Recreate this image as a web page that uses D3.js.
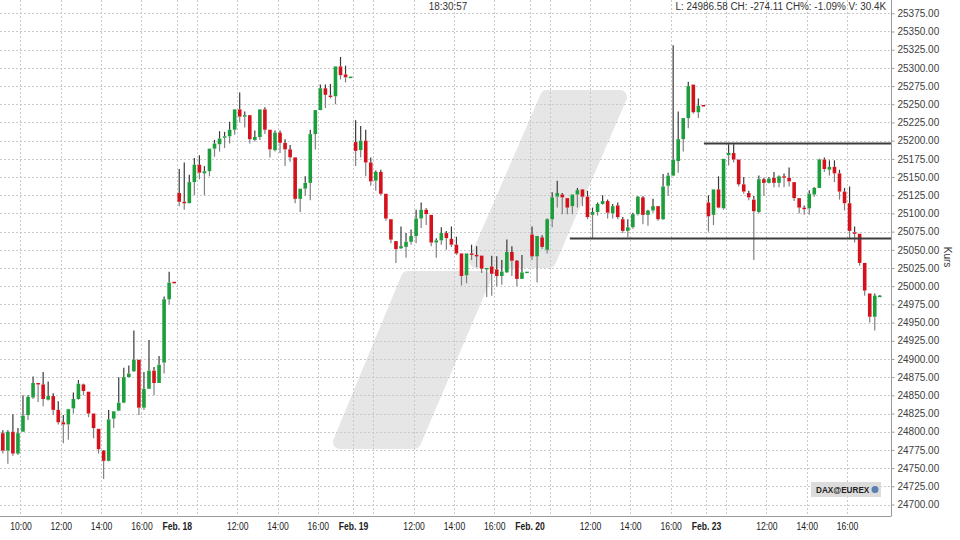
<!DOCTYPE html>
<html><head><meta charset="utf-8">
<script src="https://cdn.jsdelivr.net/npm/d3@7"></script>
<style>
body{margin:0;background:#fff;}
svg{display:block;font-family:"Liberation Sans",Arial,sans-serif;}
</style></head><body>
<svg id="c" width="960" height="540"></svg>
<script>
// ---------- DATA ----------
const dayLabels = ["Feb. 17", "Feb. 18", "Feb. 19", "Feb. 20", "Feb. 23"];
const timeLabels = ["10:00", "12:00", "14:00", "16:00"];
const timeHours = [1, 3, 5, 7];            // hours after session start (09:00)
const yTicks = d3.range(24700, 25375.01, 25);
// candles [open, high, low, close], 15-minute bars 09:00 .. 17:30
const feb17 = [
 [24798,24802,24770,24774],[24774,24802,24756,24800],[24800,24824,24767,24770],[24770,24805,24768,24798],
 [24800,24850,24800,24822],[24823,24850,24816,24848],[24847,24876,24845,24867],[24867,24867,24841,24865],
 [24865,24882,24835,24845],[24844,24869,24843,24849],[24849,24853,24823,24830],[24830,24842,24810,24813],
 [24813,24823,24784,24810],[24810,24831,24789,24831],[24832,24854,24825,24845],[24845,24871,24844,24866],
 [24865,24866,24850,24856],[24855,24855,24820,24825],[24825,24825,24791,24805],[24804,24804,24770,24776],
 [24774,24775,24735,24760],[24760,24830,24759,24817],[24818,24828,24805,24828],[24829,24875,24828,24840],
 [24840,24888,24839,24875],[24875,24891,24875,24880],[24883,24939,24882,24899],[24899,24899,24823,24833],
 [24833,24882,24830,24859],[24859,24926,24859,24884],[24884,24889,24850,24867],[24867,24904,24867,24892],
 [24895,24986,24880,24982],[24982,25020,24975,25005],[25006,25006,25005,25005]
];
const feb18 = [
 [25128,25161,25110,25116],[25116,25170,25105,25114],[25114,25153,25114,25143],[25143,25176,25125,25167],
 [25167,25180,25147,25156],[25155,25165,25125,25158],[25158,25189,25151,25189],[25189,25201,25178,25196],
 [25195,25213,25185,25203],[25204,25212,25190,25206],[25206,25226,25196,25215],[25215,25243,25208,25243],
 [25243,25266,25225,25233],[25233,25240,25218,25235],[25235,25235,25196,25202],[25201,25214,25199,25205],
 [25205,25243,25201,25243],[25243,25246,25209,25215],[25215,25215,25177,25188],[25187,25214,25185,25211],
 [25211,25214,25183,25197],[25197,25202,25165,25188],[25188,25194,25171,25177],[25177,25177,25114,25120],
 [25120,25134,25102,25134],[25134,25151,25124,25142],[25142,25215,25118,25209],[25209,25242,25188,25242],
 [25242,25277,25242,25272],[25272,25277,25245,25263],[25262,25278,25258,25260],[25261,25302,25250,25302],
 [25302,25315,25284,25290],[25291,25303,25280,25287],[25287,25288,25287,25288]
];
const feb19 = [
 [25198,25228,25165,25186],[25187,25220,25177,25200],[25200,25215,25151,25170],[25170,25177,25138,25144],
 [25145,25159,25131,25157],[25157,25160,25125,25127],[25127,25127,25090,25093],[25092,25092,25059,25064],
 [25062,25062,25032,25051],[25052,25082,25051,25055],[25054,25073,25039,25061],[25061,25078,25057,25069],
 [25069,25105,25059,25093],[25093,25115,25080,25105],[25105,25107,25084,25099],[25098,25098,25055,25060],
 [25060,25066,25039,25063],[25063,25081,25057,25073],[25073,25076,25050,25066],[25065,25082,25054,25057],
 [25057,25068,25043,25045],[25045,25045,25001,25014],[25015,25045,25004,25045],[25045,25057,25036,25043],
 [25043,25055,25026,25042],[25042,25042,25018,25024],[25023,25025,24985,25025],[25027,25042,24987,25017],
 [25023,25041,25000,25014],[25014,25036,25002,25020],[25019,25064,25018,25047],[25047,25055,25014,25035],
 [25035,25036,25000,25010],[25010,25043,25010,25019],[25019,25020,25019,25020]
];
const feb20 = [
 [25071,25082,25036,25041],[25041,25069,25005,25069],[25067,25070,25051,25054],[25050,25093,25045,25092],
 [25092,25129,25081,25122],[25123,25145,25108,25128],[25126,25128,25099,25122],[25121,25121,25099,25108],
 [25110,25126,25099,25126],[25126,25135,25108,25132],[25133,25133,25110,25123],[25123,25131,25092,25095],
 [25098,25108,25066,25102],[25102,25115,25097,25113],[25113,25125,25112,25117],[25117,25119,25093,25101],
 [25100,25113,25093,25110],[25111,25115,25092,25095],[25092,25095,25073,25076],[25076,25092,25067,25081],
 [25081,25101,25079,25099],[25099,25124,25097,25123],[25122,25124,25085,25098],[25098,25105,25083,25104],
 [25104,25120,25101,25110],[25110,25110,25090,25092],[25092,25154,25091,25137],[25138,25156,25124,25152],
 [25152,25331,25151,25174],[25172,25240,25156,25202],[25202,25231,25185,25231],[25231,25281,25217,25275],
 [25277,25277,25237,25239],[25239,25258,25231,25248],[25249,25249,25248,25248]
];
const feb23 = [
 [25115,25125,25075,25096],[25098,25133,25084,25133],[25133,25151,25107,25108],[25107,25175,25105,25175],
 [25180,25195,25166,25183],[25183,25195,25170,25174],[25174,25174,25137,25140],[25140,25150,25127,25130],
 [25128,25131,25118,25122],[25119,25124,25036,25103],[25102,25152,25100,25147],[25147,25149,25124,25142],
 [25142,25150,25141,25148],[25149,25157,25136,25142],[25142,25152,25136,25151],[25151,25155,25136,25149],
 [25149,25163,25137,25144],[25143,25143,25117,25121],[25121,25121,25100,25108],[25108,25111,25098,25106],
 [25107,25132,25098,25127],[25126,25136,25123,25135],[25135,25175,25135,25174],[25174,25177,25157,25161],
 [25160,25173,25152,25164],[25164,25173,25143,25155],[25155,25160,25119,25130],[25130,25135,25104,25114],
 [25114,25137,25066,25076],[25074,25082,25060,25072],[25072,25072,25028,25032],[25032,25032,24987,24994],
 [24990,24990,24950,24958],[24958,24990,24939,24987],[24987,24988,24986,24987]
];
const sessions = [feb17, feb18, feb19, feb20, feb23];
// horizontal support / resistance lines: level and start (session hours)
const levelValues = [25196, 25065.5];
const levelStarts = [34.9, 28.25];
const headerTime = "18:30:57";
const headerStats = "L: 24986.58 CH: -274.11 CH%: -1.09% V: 30.4K";

// ---------- LAYOUT ----------
const svg = d3.select("#c");
const plotRight = 891, plotBottom = 516;
const sessionLen = 8.75, barH = 0.25;
const x = d3.scaleLinear().domain([0, 44.18]).range([0.3, plotRight]);
const y = d3.scaleLinear().domain([24700, 25375]).range([504.5, 13.3]);
const green = "#1c9e3d", red = "#d3121b";
const condense = (sel, k) => sel.each(function () {
  const w = this.getComputedTextLength();
  d3.select(this).attr("textLength", w * k).attr("lengthAdjust", "spacingAndGlyphs");
});

// watermark (two slanted rounded parallelograms)
const wm = svg.append("g").attr("fill", "#e6e6e6").attr("stroke", "#e6e6e6")
  .attr("stroke-width", 14).attr("stroke-linejoin", "round");
const wmShapes = [
  [[547,97],[620,97],[549,261],[476,261]],
  [[408,278],[484,278],[414,442],[340,442]]
];
wm.selectAll("path").data(wmShapes).join("path")
  .attr("d", d => d3.line()(d) + "Z");

// grid
const grid = svg.append("g").attr("stroke", "#c9c9c9").attr("stroke-dasharray", "2,2").attr("stroke-width", 1);
grid.selectAll("line.h").data(yTicks).join("line").attr("class", "h")
  .attr("x1", 0).attr("x2", plotRight).attr("y1", d => Math.round(y(d)) + 0.5).attr("y2", d => Math.round(y(d)) + 0.5);
const vTicks = [];
sessions.forEach((s, i) => {
  if (i > 0) vTicks.push({h: i * sessionLen, label: dayLabels[i], bold: true});
  timeHours.forEach((t, k) => vTicks.push({h: i * sessionLen + t, label: (i > 0 && k === 0) ? "" : timeLabels[k], bold: false}));
});
grid.selectAll("line.v").data(vTicks).join("line").attr("class", "v")
  .attr("x1", d => Math.round(x(d.h)) + 0.5).attr("x2", d => Math.round(x(d.h)) + 0.5)
  .attr("y1", 0).attr("y2", plotBottom);

// candles
const candles = [];
sessions.forEach((s, i) => s.forEach((c, j) => candles.push({
  h: i * sessionLen + (j + 0.5) * barH, o: c[0], hi: c[1], lo: c[2], c: c[3]
})));
const cg = svg.append("g");
const bw = 3.6;
candles.forEach(d => {
  const cx = x(d.h);
  const top = Math.max(d.o, d.c), bot = Math.min(d.o, d.c);
  const up = d.c >= d.o;
  if (d.hi > top) cg.append("line").attr("x1", cx).attr("x2", cx).attr("y1", y(d.hi)).attr("y2", y(top))
    .attr("stroke", "#3a3a3a").attr("stroke-width", 1.2);
  if (d.lo < bot) cg.append("line").attr("x1", cx).attr("x2", cx).attr("y1", y(bot)).attr("y2", y(d.lo))
    .attr("stroke", "#808080").attr("stroke-width", 1.2);
  const by = y(top), bh = Math.max(1.5, y(bot) - y(top));
  cg.append("rect").attr("x", cx - bw / 2).attr("y", by).attr("width", bw).attr("height", bh)
    .attr("fill", up ? green : red);
});

// level lines
svg.append("g").selectAll("line").data(levelValues).join("line")
  .attr("x1", (d, i) => x(levelStarts[i])).attr("x2", plotRight)
  .attr("y1", d => y(d)).attr("y2", d => y(d))
  .attr("stroke", "#3d3d3d").attr("stroke-width", 2);

// frame
svg.append("line").attr("x1", plotRight + 0.5).attr("x2", plotRight + 0.5).attr("y1", 0).attr("y2", plotBottom)
  .attr("stroke", "#9a9a9a");
svg.append("line").attr("x1", 0).attr("x2", plotRight + 0.5).attr("y1", plotBottom + 0.5).attr("y2", plotBottom + 0.5)
  .attr("stroke", "#9a9a9a");

// y axis
const ya = svg.append("g").attr("transform", `translate(${plotRight + 0.5},0)`)
  .call(d3.axisRight(y).tickValues(yTicks).tickFormat(d3.format(".2f")).tickSize(3).tickPadding(3));
ya.select(".domain").remove();
ya.selectAll("line").attr("stroke", "#9a9a9a");
ya.selectAll("text").attr("fill", "#404040").style("font-size", "10px")
  .style("font-family", "'Liberation Sans',Arial,sans-serif");

// x axis
const xa = svg.append("g").attr("transform", `translate(0,${plotBottom})`)
  .call(d3.axisBottom(x).tickValues(vTicks.filter(d => d.label).map(d => d.h))
    .tickFormat(h => vTicks.find(v => v.h === h).label).tickSize(0).tickPadding(6));
xa.select(".domain").remove();
xa.selectAll("text").attr("fill", "#222").style("font-size", "11px")
  .style("font-family", "'Liberation Sans',Arial,sans-serif")
  .style("font-weight", h => vTicks.find(v => v.h === h).bold ? "bold" : "normal");
condense(xa.selectAll("text"), 0.78);

// axis title
svg.append("text").attr("transform", "translate(944,257) rotate(90)").attr("text-anchor", "middle")
  .style("font-size", "10px").attr("fill", "#333").text("Kurs");

// header (horizontally condensed with a scale transform)
svg.append("text").attr("transform", "translate(448,10) scale(0.9,1)").attr("text-anchor", "middle")
  .style("font-size", "11px").attr("fill", "#333").text(headerTime);
svg.append("text").attr("transform", "translate(886,10) scale(0.9,1)").attr("text-anchor", "end")
  .style("font-size", "11px").attr("fill", "#333").text(headerStats);

// badge
const badge = svg.append("g");
badge.append("rect").attr("x", 811).attr("y", 482).attr("width", 70).attr("height", 15).attr("fill", "#dcdcdc");
badge.append("text").attr("transform", "translate(816,493) scale(0.86,1)").style("font-size", "9.5px").style("font-weight", "bold")
  .attr("fill", "#222").text("DAX@EUREX");
badge.append("circle").attr("cx", 875).attr("cy", 489.5).attr("r", 3.5).attr("fill", "#5a7fb0");
</script>
</body></html>
